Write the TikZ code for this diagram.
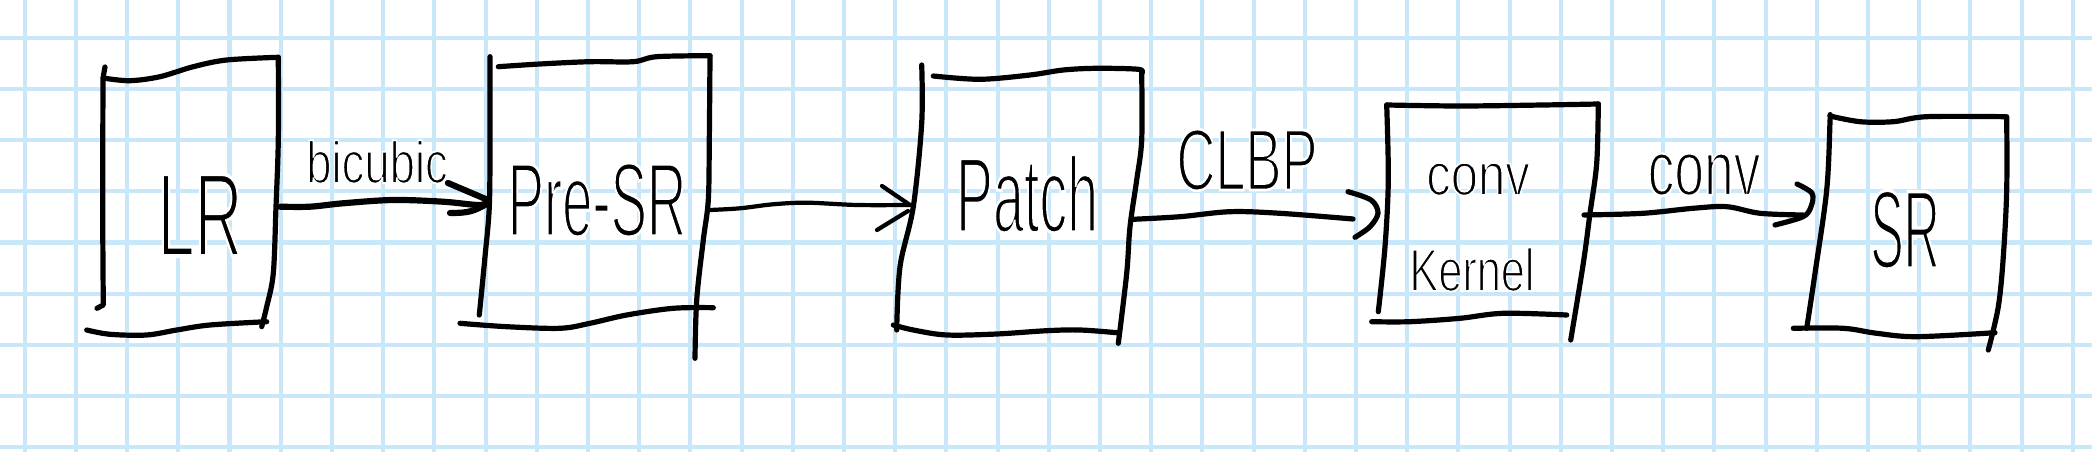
\documentclass[tikz,border=0pt]{standalone}
\usepackage{fontspec}
\setmainfont{Liberation Sans}
\newfontfamily\hwfont[FakeBold=3]{Liberation Sans}
\definecolor{gridblue}{RGB}{200,232,250}
% thin hand-written looking text: glyphs are eroded by a white outline stroke
\newcommand\hwtext[3]{{\hwfont\fontsize{#1}{#1}\selectfont\special{pdf:literal direct 1 1 1 RG}\scalebox{#2}[1]{#3}}}
\begin{document}
\begin{tikzpicture}[x=0.025cm,y=-0.025cm,
  gridline/.style={draw=gridblue,line width=2.85pt},
  pen/.style={draw=black,line width=3.7pt,line cap=round,line join=round},
  penthin/.style={pen,line width=3pt},
  penthick/.style={pen,line width=4.4pt},
  hw/.style={inner sep=0pt,anchor=base,text=black},
  wob/.style={smooth,tension=0.55}]
\fill[white] (0,0) rectangle (2092,452);
\useasboundingbox (0,0) rectangle (2092,452);
% squared paper
\foreach \k in {0,...,40} \draw[gridline] ({24.7+51.2*\k},0) -- ({24.7+51.2*\k},452);
\foreach \k in {0,...,8} \draw[gridline] (0,{37.7+51.2*\k}) -- (2092,{37.7+51.2*\k});

% ---------- texts (nodes) ----------
\node[hw] (lr)     at (200,256)  {\hwtext{84.5}{0.56}{LR}};
\node[hw] (presr)  at (597,236)  {\hwtext{74.5}{0.52}{Pre-SR}};
\node[hw] (patch)  at (1027,232) {\hwtext{76}{0.52}{Patch}};
\node[hw] (kconv)  at (1478,195) {\hwtext{42.5}{0.82}{conv}};
\node[hw] (kernel) at (1472,291) {\hwtext{42.7}{0.72}{Kernel}};
\node[hw] (sr)     at (1905,268) {\hwtext{79}{0.45}{SR}};
\node[hw] (lbicubic) at (377,183)  {\hwtext{42}{0.77}{bicubic}};
\node[hw] (lclbp)    at (1247,190) {\hwtext{62}{0.62}{CLBP}};
\node[hw] (lconv)    at (1704,195) {\hwtext{55}{0.69}{conv}};

% ---------- hand-drawn boxes ----------
% LR
\draw[pen] (105,67) -- (103,78) plot[wob] coordinates {(103,78) (102.7,207) (103.3,305)} -- (97,308.3);
\draw[pen] plot[wob] coordinates {(105,78.3) (130,80.7) (160,76.7) (193.3,66.7) (226.7,60) (278.3,57.3)};
\draw[pen] plot[wob] coordinates {(278.3,57.3) (278.3,140) (276,206.7) (273.3,273.3) (266.7,306.7) (261.7,326.7)};
\draw[pen] plot[wob] coordinates {(86.7,330) (110,334.3) (146.7,335) (176.7,330) (210,325) (266.7,321.7)};
% Pre-SR
\draw[pen] plot[wob] coordinates {(490,56.7) (490,140) (489.3,206.7) (485,256.7) (479.3,315)};
\draw[pen] plot[wob] coordinates {(498.3,66.7) (540,64) (590,61.7) (633.3,61.7) (656.7,56.7) (710,55.7)};
\draw[pen] plot[wob] coordinates {(710,55.7) (709.3,140) (708.3,200) (703.3,240) (696.7,300) (695,358.3)};
\draw[pen] plot[wob] coordinates {(460,323.3) (506.7,326.7) (560,328.3) (590,323.3) (626.7,315) (673.3,308.3) (713.3,307.7)};
% Patch
\draw[pen] plot[wob] coordinates {(921.7,65) (921.7,123.3) (913.3,206.7) (900,266.7) (896.7,330)};
\draw[pen] plot[wob] coordinates {(933.3,76) (980,79.3) (1030,75) (1063.3,70) (1096.7,68.3) (1138.3,69.3) (1141.7,73.3)};
\draw[pen] plot[wob] coordinates {(1141.7,73.3) (1141.7,140) (1136.7,180) (1130,226.7) (1126.7,273.3) (1118.3,343.3)};
\draw[pen] plot[wob] coordinates {(893.3,325) (913.3,330) (946.7,335) (996.7,334) (1046.7,330.7) (1080,330) (1116.7,332.7)};
% conv Kernel
\draw[pen] plot[wob] coordinates {(1386.7,105) (1388.3,180) (1385,246.7) (1378.3,311.7)};
\draw[pen] plot[wob] coordinates {(1386.7,105) (1460,106) (1543.3,105) (1598.3,104)};
\draw[pen] plot[wob] coordinates {(1598.3,104) (1596.7,163.3) (1590,213.3) (1583.3,263.3) (1570.7,340)};
\draw[pen] plot[wob] coordinates {(1371.7,321.7) (1410,321.7) (1460,318.3) (1503.3,313.3) (1566.7,315)};
% SR
\draw[pen] plot[wob] coordinates {(1830,116) (1830,121.7) (1826.7,190) (1815,273.3) (1806.7,328.3)};
\draw[pen] plot[wob] coordinates {(1830,116) (1860,121.7) (1893.3,121.7) (1926.7,116.7) (2005,116.7)};
\draw[pen] plot[wob] coordinates {(2006.7,116.7) (2006.7,190) (2003.3,256.7) (1998.3,306.7) (1988.3,350)};
\draw[pen] plot[wob] coordinates {(1793.3,328.3) (1843.3,328.3) (1876.7,333.3) (1916.7,336.7) (1995,332.7)};

% ---------- connector end points ----------
\coordinate (lrE)    at (280,206.7);
\coordinate (presrW) at (488,200);
\coordinate (presrE) at (710,210);
\coordinate (patchW) at (910,205);
\coordinate (patchE) at (1133,219.3);
\coordinate (kernW)  at (1353,219);
\coordinate (kernE)  at (1584,215);
\coordinate (srW)    at (1803,215);

% ---------- connectors ----------
% LR -> Pre-SR (bicubic)
\draw[penthick] plot[wob] coordinates {(lrE) (310,206.7) (343,203.3) (393,200) (443,201.7) (480,205) (presrW)};
\draw[penthick] (presrW) -- ++(-40,-17);
\draw[penthick] (presrW) ++(-3,5) .. controls ++(-12,6) and ++(20,0) .. ++(-35,8);
% Pre-SR -> Patch
\draw[penthin] plot[wob] coordinates {(presrE) (740,208.3) (773,204.3) (807,202.7) (857,205) (patchW)};
\draw[penthin] (patchW) -- ++(-28,-19);
\draw[penthin] (patchW) ++(-2,6) -- ++(-31,19);
% Patch -> conv Kernel (CLBP)
\draw[pen] plot[wob] coordinates {(patchE) (1180,216.7) (1230,211.7) (1280,213.3) (kernW)};
\draw[pen] plot[wob] coordinates {(1348,191.7) (1371,200) (1378,213) (1370,226.7) (1355,237.3)};
% conv Kernel -> SR (conv)
\draw[pen] plot[wob] coordinates {(kernE) (1643,213.3) (1693,208.3) (1727,206.7) (1760,213.3) (srW)};
\draw[pen] plot[wob] coordinates {(1797,184) (1812,193.3) (1811,206.7) (1803,216.7) (1775,225)};
\end{tikzpicture}
\end{document}
